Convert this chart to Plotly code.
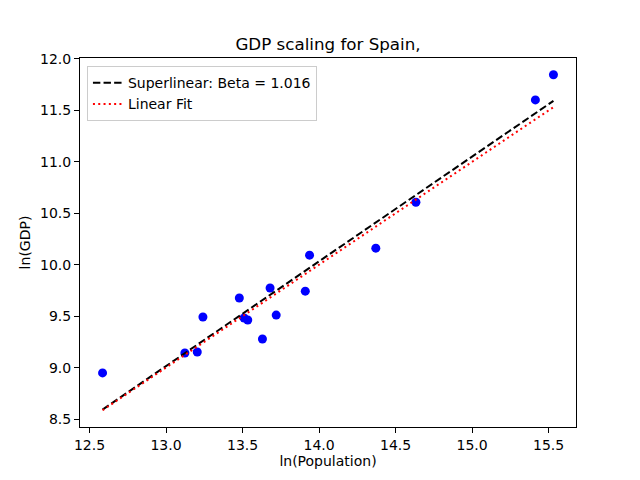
import numpy as np
import plotly.graph_objects as go

# data
ln_pop = [12.585, 13.123, 13.204, 13.241, 13.479, 13.51, 13.534, 13.63,
          13.68, 13.72, 13.91, 13.938, 14.371, 14.633, 15.414, 15.532]
ln_gdp = [8.952, 9.145, 9.155, 9.494, 9.678, 9.484, 9.465, 9.281,
          9.775, 9.513, 9.745, 10.094, 10.162, 10.607, 11.60, 11.844]

beta = 1.016
beta_intercept = -4.19
lin_slope = 0.9976
lin_intercept = -3.965

x_ticks = [12.5, 13.0, 13.5, 14.0, 14.5, 15.0, 15.5]
y_ticks = [8.5, 9.0, 9.5, 10.0, 10.5, 11.0, 11.5, 12.0]

xs = np.array(ln_pop)
x_line = np.array([xs.min(), xs.max()])
y_super = beta * x_line + beta_intercept
y_lin = lin_slope * x_line + lin_intercept

font = "DejaVu Sans"

fig = go.Figure()
fig.add_trace(go.Scatter(x=ln_pop, y=ln_gdp, mode="markers",
                         marker=dict(color="blue", size=9), showlegend=False))
fig.add_trace(go.Scatter(x=x_line, y=y_super, mode="lines",
                         name="Superlinear: Beta = %.3f" % beta,
                         line=dict(color="black", width=2, dash="7.4px,3.2px")))
fig.add_trace(go.Scatter(x=x_line, y=y_lin, mode="lines", name="Linear Fit",
                         line=dict(color="red", width=2, dash="2px,3.3px")))

# matplotlib-like autoscale with 5% margins
all_y = np.concatenate([ln_gdp, y_super, y_lin])
xspan = xs.max() - xs.min()
yspan = all_y.max() - all_y.min()
xr = [xs.min() - 0.05 * xspan, xs.max() + 0.05 * xspan]
yr = [all_y.min() - 0.05 * yspan, all_y.max() + 0.05 * yspan]

axis_style = dict(showgrid=False, zeroline=False, showline=True, linecolor="black",
                  linewidth=1, mirror=True, ticks="outside", ticklen=5,
                  tickcolor="black", tickfont=dict(size=14, color="black"))

fig.update_xaxes(range=xr, tickvals=x_ticks, tickformat=".1f",
                 title=dict(text="ln(Population)", font=dict(size=14, color="black"),
                            standoff=4), **axis_style)
fig.update_yaxes(range=yr, tickvals=y_ticks, tickformat=".1f",
                 title=dict(text="ln(GDP)", font=dict(size=14, color="black"),
                            standoff=6), **axis_style)

# page has an 8px body margin, so the margins are shifted to compensate
fig.update_layout(
    width=640, height=480,
    margin=dict(l=72, r=72, t=50, b=61),
    paper_bgcolor="white", plot_bgcolor="white",
    font=dict(family=font, size=14, color="black"),
    title=dict(text="GDP scaling for Spain,", x=0.5, xanchor="center",
               xref="paper", yref="container", y=0.925, yanchor="middle",
               font=dict(size=16.7)),
    legend=dict(x=0.014, y=0.978, xanchor="left", yanchor="top",
                bordercolor="#cccccc", borderwidth=1, bgcolor="rgba(255,255,255,0.8)",
                font=dict(size=14), tracegroupgap=0),
)

fig.write_html("out.html")
